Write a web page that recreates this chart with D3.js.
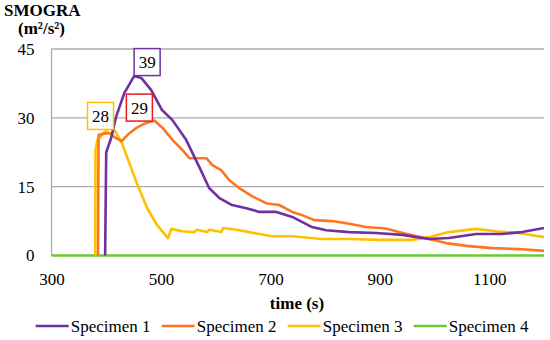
<!doctype html>
<html><head><meta charset="utf-8"></head><body style="margin:0">
<svg id="chart" width="550" height="340"></svg>
<script src="https://cdnjs.cloudflare.com/ajax/libs/d3/7.8.5/d3.min.js"></script>
<script>
// values: [time (s), SMOGRA (m²/s²)]
var specimen1 = [[398,0],[400,22.5],[409,25.6],[418,30.2],[433,35.4],[451,39.1],[464,38.7],[482,36.1],
    [502,31.7],[521,29.5],[546,25.2],[570,19.3],[588,14.7],[607,12.5],[630,11.0],[656,10.3],[680,9.5],
    [711,9.5],[740,8.4],[776,6.2],[802,5.5],[844,5.1],[893,4.9],[941,4.5],[990,3.6],[1026,3.8],
    [1076,4.7],[1123,4.7],[1160,5.1],[1200,6.0]];
var specimen2 = [[385,0],[386,26.3],[393,26.5],[406,26.7],[415,25.8],[428,24.9],[439,26.3],[455,27.8],
    [473,28.9],[488,29.4],[503,27.8],[521,25.2],[539,23.0],[552,21.2],[576,21.2],[583,21.2],[594,19.7],
    [610,18.6],[625,16.4],[643,14.7],[667,12.9],[692,11.4],[716,11.0],[740,9.5],[758,8.8],[780,7.7],
    [813,7.5],[844,6.9],[875,6.2],[911,5.9],[935,5.1],[959,4.4],[990,3.6],[1021,2.7],[1058,2.1],
    [1105,1.6],[1154,1.4],[1200,1.0]];
var specimen3 = [[380,0],[380.5,23.0],[384,25.2],[388,25.6],[397,26.9],[406,27.8],[415,27.3],[428,24.7],
    [439,21.2],[457,15.4],[475,10.3],[493,6.6],[513,3.8],[519,5.8],[539,5.3],[561,5.1],[565,5.6],
    [585,5.1],[588,5.6],[610,5.1],[614,6.0],[638,5.6],[661,5.1],[703,4.2],[740,4.2],[795,3.6],
    [844,3.6],[899,3.4],[959,3.4],[990,4.0],[1026,5.1],[1076,5.8],[1112,5.3],[1154,4.9],[1200,4.0]];
var specimen4 = [[300,0],[1200,0]];

var seriesNames = ["Specimen 1", "Specimen 2", "Specimen 3", "Specimen 4"];
var seriesData = [specimen1, specimen2, specimen3, specimen4];
var colors = ["#7030A0", "#FF7420", "#FFC000", "#66CC33"];
var xTicks = [300, 500, 700, 900, 1100];
var yTicks = [0, 15, 30, 45];
// peak call-outs: series index, box colour
var peakLabels = [
    {series: 0, color: "#7030A0", dx: 13, dy: -14},
    {series: 1, color: "#E8191C", dx: -15, dy: -13},
    {series: 2, color: "#FFC000", dx: -9, dy: -12}
];

var serif = "'Liberation Serif'";
var svg = d3.select("#chart");

var x = d3.scaleLinear().domain([300, 1200]).range([51.5, 544]);
var y = d3.scaleLinear().domain([0, 45]).range([255.5, 49]);

// gridlines
svg.append("g").selectAll("line").data(yTicks.filter(function(d) { return d > 0; }))
    .enter().append("line")
    .attr("x1", x(300)).attr("x2", x(1200))
    .attr("y1", function(d) { return y(d); }).attr("y2", function(d) { return y(d); })
    .style("stroke", "#ababab").style("stroke-width", 1.3);

svg.append("line")
    .attr("x1", x(300)).attr("x2", x(300)).attr("y1", y(45)).attr("y2", y(0))
    .style("stroke", "#ababab").style("stroke-width", 1.3);

// y axis labels
var yAxis = d3.axisLeft(y).tickValues(yTicks).tickSize(0).tickPadding(17);
var gy = svg.append("g").attr("transform", "translate(" + x(300) + ",0)").call(yAxis);
gy.select(".domain").remove();
gy.selectAll("text").style("font-family", serif).style("font-size", "17px").style("fill", "#000");

// x axis labels
var xAxis = d3.axisBottom(x).tickValues(xTicks).tickFormat(d3.format("d")).tickSize(0).tickPadding(17);
var gx = svg.append("g").attr("transform", "translate(0," + y(0) + ")").call(xAxis);
gx.select(".domain").remove();
gx.selectAll("text").style("font-family", serif).style("font-size", "17px").style("fill", "#000");

// lines
var line = d3.line()
    .x(function(d) { return x(d[0]); })
    .y(function(d) { return y(d[1]); });

[3, 2, 1, 0].forEach(function(i) {
    svg.append("path")
        .datum(seriesData[i])
        .attr("d", line)
        .style("fill", "none")
        .style("stroke", colors[i])
        .style("stroke-width", 2.6)
        .style("stroke-linejoin", "round");
});

// peak boxes
peakLabels.forEach(function(p) {
    var data = seriesData[p.series];
    var peak = data.reduce(function(a, b) { return b[1] > a[1] ? b : a; });
    var cx = x(peak[0]) + p.dx, cy = y(peak[1]) + p.dy;
    svg.append("rect")
        .attr("x", cx - 13).attr("y", cy - 13.5)
        .attr("width", 26).attr("height", 27)
        .style("fill", "#fff").style("stroke", p.color).style("stroke-width", 1.5);
    svg.append("text")
        .attr("x", cx).attr("y", cy + 6)
        .attr("text-anchor", "middle")
        .style("font-family", serif)
        .style("font-size", "17px")
        .text(Math.round(peak[1]));
});

// titles
svg.append("text").attr("x", 4).attr("y", 16)
    .style("font-family", serif).style("font-size", "17px").style("font-weight", "bold")
    .text("SMOGRA");
svg.append("text").attr("x", 18).attr("y", 34)
    .style("font-family", serif).style("font-size", "17px").style("font-weight", "bold")
    .text("(m²/s²)");
svg.append("text").attr("x", 297).attr("y", 309)
    .attr("text-anchor", "middle")
    .style("font-family", serif).style("font-size", "17px").style("font-weight", "bold")
    .text("time (s)");

// legend
var legend = svg.append("g").selectAll("g").data(seriesNames).enter().append("g")
    .attr("transform", function(d, i) { return "translate(" + (35.7 + i * 126) + ",326)"; });
legend.append("line")
    .attr("x1", 0).attr("x2", 33)
    .style("stroke", function(d, i) { return colors[i]; })
    .style("stroke-width", 2.6);
legend.append("text")
    .attr("x", 35).attr("y", 5.5)
    .style("font-family", serif)
    .style("font-size", "17px")
    .text(function(d) { return d; });
</script>
</body></html>
